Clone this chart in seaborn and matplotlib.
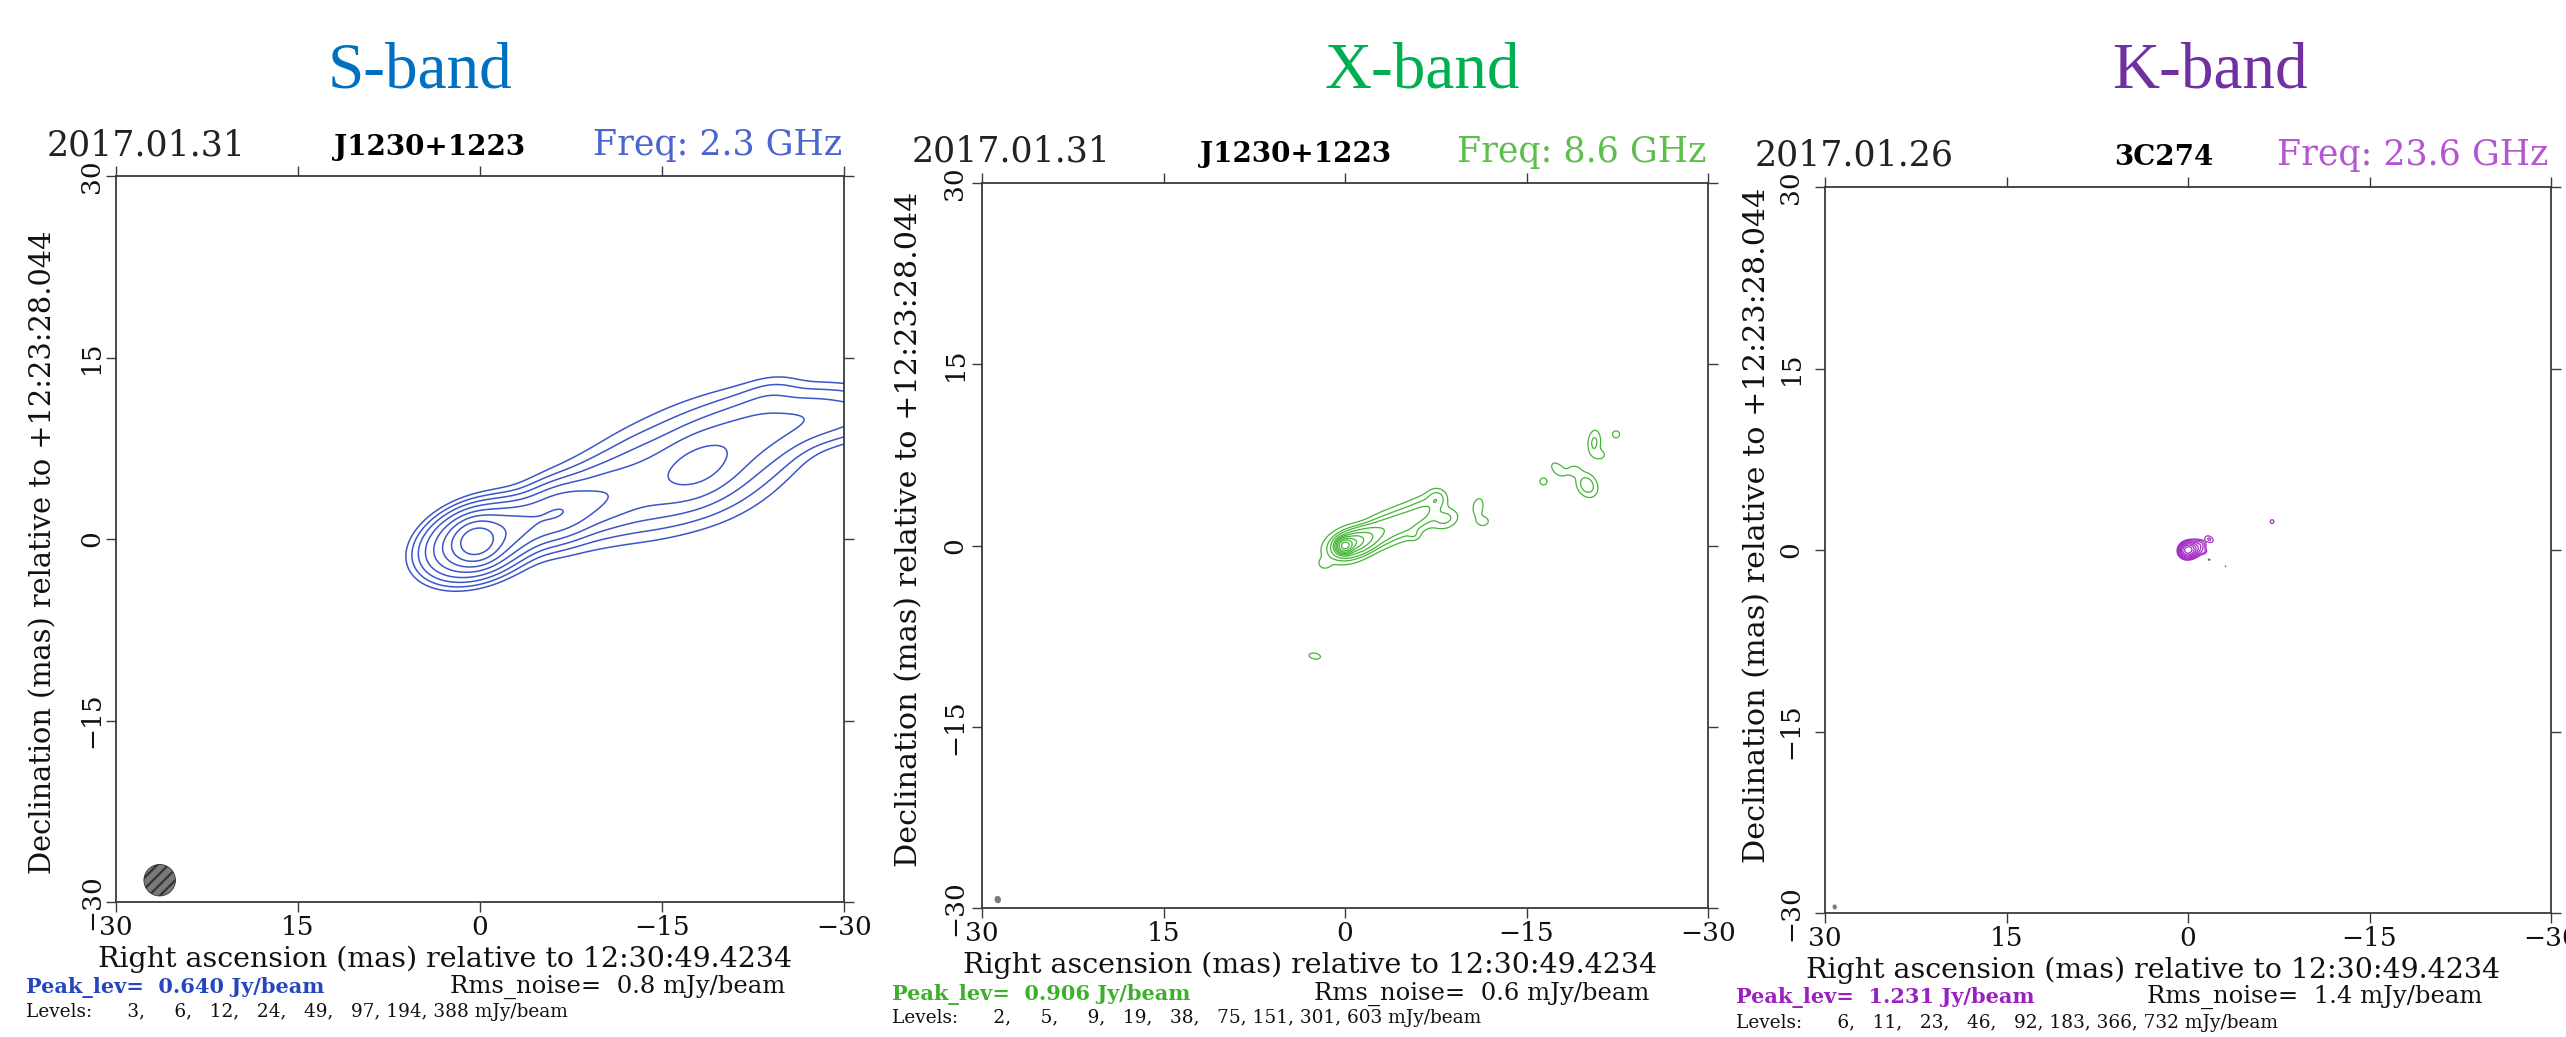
import numpy as np
import matplotlib
matplotlib.use("Agg")
import matplotlib.pyplot as plt
from matplotlib.patches import Ellipse
import seaborn as sns

# ---- panel text ----
bands = ["S-band", "X-band", "K-band"]
band_colors = ["#0070C0", "#00B050", "#7030A0"]
line_colors = ["#3A56C8", "#44B436", "#A42EC4"]
freq_colors = ["#4A64D0", "#5DBF4B", "#B455D2"]
peak_colors = ["#2546BE", "#3CB02A", "#9A20C0"]
dates = ["2017.01.31", "2017.01.31", "2017.01.26"]
sources = ["J1230+1223", "J1230+1223", "3C274"]
freqs = ["2.3", "8.6", "23.6"]
peaks = ["0.640", "0.906", "1.231"]
rms = ["0.8", "0.6", "1.4"]
s_levels = [3, 6, 12, 24, 49, 97, 194, 388]
x_levels = [2, 5, 9, 19, 38, 75, 151, 301, 603]
k_levels = [6, 11, 23, 46, 92, 183, 366, 732]
ticks = [30, 15, 0, -15, -30]

# ---- gaussian components (mas, mJy/beam) ----
s_ra    = [0.3, 0.3, -3.0, -6.5, -10.0, -13.5, -18.0, -18.5, -12.0, -22.5,
           -26.5, -30.5, -24.0]
s_dec   = [-0.2, -0.2, 1.0, 2.2, 3.4, 4.6, 6.0, 6.4, 4.0, 8.8,
           10.0, 10.2, 11.8]
s_peak  = [440, 250, 70, 80, 32, 16, 42, 16, 6, 18,
           15, 11, 4]
s_major = [1.0, 2.0, 1.8, 1.8, 2.0, 2.2, 2.3, 4.0, 8.0, 2.5,
           2.5, 2.5, 1.6]
s_minor = [0.85, 1.25, 1.1, 1.2, 1.4, 1.8, 1.45, 2.6, 2.8, 1.7,
           1.3, 1.2, 1.0]
s_angle = [160, 160, 160, 160, 160, 160, 152, 160, 160, 160,
           160, 165, 160]

x_ra    = [0.0, -0.6, -0.4, -1.5, -3.0, -4.8, -6.5, -7.6, -8.3, -5.7, 1.7,
           -11.0, -11.4, -16.4, -17.6, -18.9, -20.0, -20.6, -21.1, -22.4, 2.5]
x_dec   = [0.0, 0.25, 0.1, 0.5, 1.2, 1.9, 2.8, 3.9, 2.2, 0.85, -1.5,
           3.2, 2.0, 5.3, 6.3, 6.2, 5.0, 8.5, 7.5, 9.2, -9.15]
x_peak  = [860, 120, 25, 40, 14, 11, 9, 6, 6, 3, 3.5,
           3.8, 3.2, 2.8, 3.5, 3.2, 8, 6, 3.0, 2.8, 2.9]
x_major = [0.32, 0.5, 1.1, 0.8, 1.0, 1.0, 1.0, 0.5, 0.7, 0.35, 0.35,
           0.6, 0.45, 0.35, 0.6, 0.45, 0.65, 0.7, 0.35, 0.35, 0.55]
x_minor = [0.28, 0.35, 0.7, 0.5, 0.7, 0.75, 0.7, 0.5, 0.5, 0.3, 0.3,
           0.35, 0.35, 0.35, 0.35, 0.35, 0.5, 0.35, 0.3, 0.35, 0.28]
x_angle = [160, 160, 160, 155, 150, 150, 145, 0, 160, 0, 0,
           100, 0, 0, 45, 0, 60, 95, 0, 0, 10]

k_ra    = [0.0, -0.4, -1.1, -1.3, -1.75, -1.75, -3.1, -6.95]
k_dec   = [0.0, 0.1, 0.45, -0.1, 0.9, -0.8, -1.35, 2.35]
k_peak  = [1150, 150, 14, 10, 12, 7, 6.5, 8]
k_major = [0.28, 0.4, 0.22, 0.2, 0.3, 0.1, 0.08, 0.2]
k_minor = [0.25, 0.3, 0.2, 0.18, 0.2, 0.1, 0.08, 0.2]
k_angle = [160, 160, 0, 0, 30, 0, 0, 0]

# restoring beams drawn in the lower-left corner
beam_ra = [26.4, 28.7, 29.2]
beam_dec = [-28.2, -29.3, -29.5]
beam_major = [2.6, 0.55, 0.35]
beam_minor = [2.6, 0.45, 0.28]
beam_angle = [0, 80, 80]
beam_hatch = ["///", None, None]

W, H = 2566, 1037
boxes = [(116, 176, 844, 902), (982, 183, 1708, 908), (1825, 187, 2551, 913)]
title_x = [420, 1422, 2210]
header_y = [155, 162, 165]
date_x = [47, 912, 1755]
source_x = [430, 1296, 2164]
freq_x = [842, 1706, 2548]
ylab_x = [43, 909, 1757]
ylab_y = [552, 529, 525]
ylab_size = [20.8, 21.8, 21.8]
ytick_pad = [1, 3, 8]
xlab_x = [445, 1310, 2153]
xlab_y = [967, 973, 978]
peak_x = [26, 892, 1736]
peak_y = [993, 1000, 1003]
rms_x = [450, 1314, 2147]
lev_y = [1017, 1023, 1028]

sns.set_theme(style="white")
plt.rcParams["font.family"] = ["DejaVu Serif", "DejaVu Sans"]
plt.rcParams["axes.unicode_minus"] = True
plt.rcParams["hatch.linewidth"] = 1.6

grid_1d = np.linspace(-33, 33, 1321)
GX, GY = np.meshgrid(grid_1d, grid_1d)


def model_image(ra, dec, peak, major, minor, angle):
    img = np.zeros_like(GX)
    for x0, y0, p, sa, sb, a in zip(ra, dec, peak, major, minor, angle):
        t = np.deg2rad(a)
        dx, dy = GX - x0, GY - y0
        u = dx * np.cos(t) + dy * np.sin(t)
        v = -dx * np.sin(t) + dy * np.cos(t)
        img += p * np.exp(-0.5 * ((u / sa) ** 2 + (v / sb) ** 2))
    return img


images = [
    model_image(s_ra, s_dec, s_peak, s_major, s_minor, s_angle),
    model_image(x_ra, x_dec, x_peak, x_major, x_minor, x_angle),
    model_image(k_ra, k_dec, k_peak, k_major, k_minor, k_angle),
]
all_levels = [s_levels, x_levels, k_levels]
line_widths = [1.1, 0.9, 0.9]


def fx(x):
    return x / W


def fy(y):
    return 1 - y / H


fig = plt.figure(figsize=(W / 100, H / 100), dpi=100)

for i in range(3):
    l, t, r, b = boxes[i]
    ax = fig.add_axes([fx(l), fy(b), (r - l) / W, (b - t) / H])
    ax.contour(GX, GY, images[i], levels=all_levels[i], colors=line_colors[i],
               linewidths=line_widths[i])
    ax.add_patch(Ellipse((beam_ra[i], beam_dec[i]), beam_major[i], beam_minor[i],
                         angle=beam_angle[i], facecolor="#7a7a7a",
                         edgecolor="#333333" if beam_hatch[i] else "#7a7a7a",
                         hatch=beam_hatch[i], linewidth=0.6))
    ax.set_xlim(30, -30)
    ax.set_ylim(-30, 30)
    ax.set_xticks(ticks)
    ax.set_yticks(ticks)
    ax.grid(False)
    for sp in ax.spines.values():
        sp.set_color("#3a3a3a")
        sp.set_linewidth(1.3)
    ax.tick_params(direction="out", length=7.5, width=1.0, color="#3a3a3a",
                   top=True, right=True, left=True, bottom=True,
                   labelsize=19, labelcolor="#111111")
    ax.tick_params(axis="x", pad=2)
    ax.tick_params(axis="y", labelrotation=90, pad=ytick_pad[i])
    for lab in ax.get_yticklabels():
        lab.set_va("center")

    fig.text(fx(title_x[i]), fy(88), bands[i], family="Liberation Serif",
             fontsize=47, color=band_colors[i], ha="center", va="baseline")
    fig.text(fx(date_x[i]), fy(header_y[i]), dates[i], fontsize=25,
             color="#222222", ha="left", va="baseline")
    fig.text(fx(source_x[i]), fy(header_y[i]), sources[i], fontsize=20,
             fontweight="bold", color="black", ha="center", va="baseline")
    fig.text(fx(freq_x[i]), fy(header_y[i]), "Freq: " + freqs[i] + " GHz",
             fontsize=25, color=freq_colors[i], ha="right", va="baseline")
    fig.text(fx(ylab_x[i]), fy(ylab_y[i]),
             "Declination (mas) relative to +12:23:28.044",
             fontsize=ylab_size[i], rotation=90, color="#111111",
             ha="center", va="center")
    fig.text(fx(xlab_x[i]), fy(xlab_y[i]),
             "Right ascension (mas) relative to 12:30:49.4234",
             fontsize=20.5, color="#111111", ha="center", va="baseline")
    fig.text(fx(peak_x[i]), fy(peak_y[i]), "Peak_lev=  " + peaks[i] + " Jy/beam",
             fontsize=15, fontweight="bold", color=peak_colors[i],
             ha="left", va="baseline")
    fig.text(fx(rms_x[i]), fy(peak_y[i]), "Rms_noise=  " + rms[i] + " mJy/beam",
             fontsize=17.5, color="#111111", ha="left", va="baseline")
    lev_txt = "Levels:  " + ", ".join(f"{v:3d}".replace(" ", "\u2007")
                                       for v in all_levels[i]) + " mJy/beam"
    fig.text(fx(peak_x[i]), fy(lev_y[i]), lev_txt, fontsize=13.3,
             color="#111111", ha="left", va="baseline")

fig.savefig("out.png", dpi=100)
